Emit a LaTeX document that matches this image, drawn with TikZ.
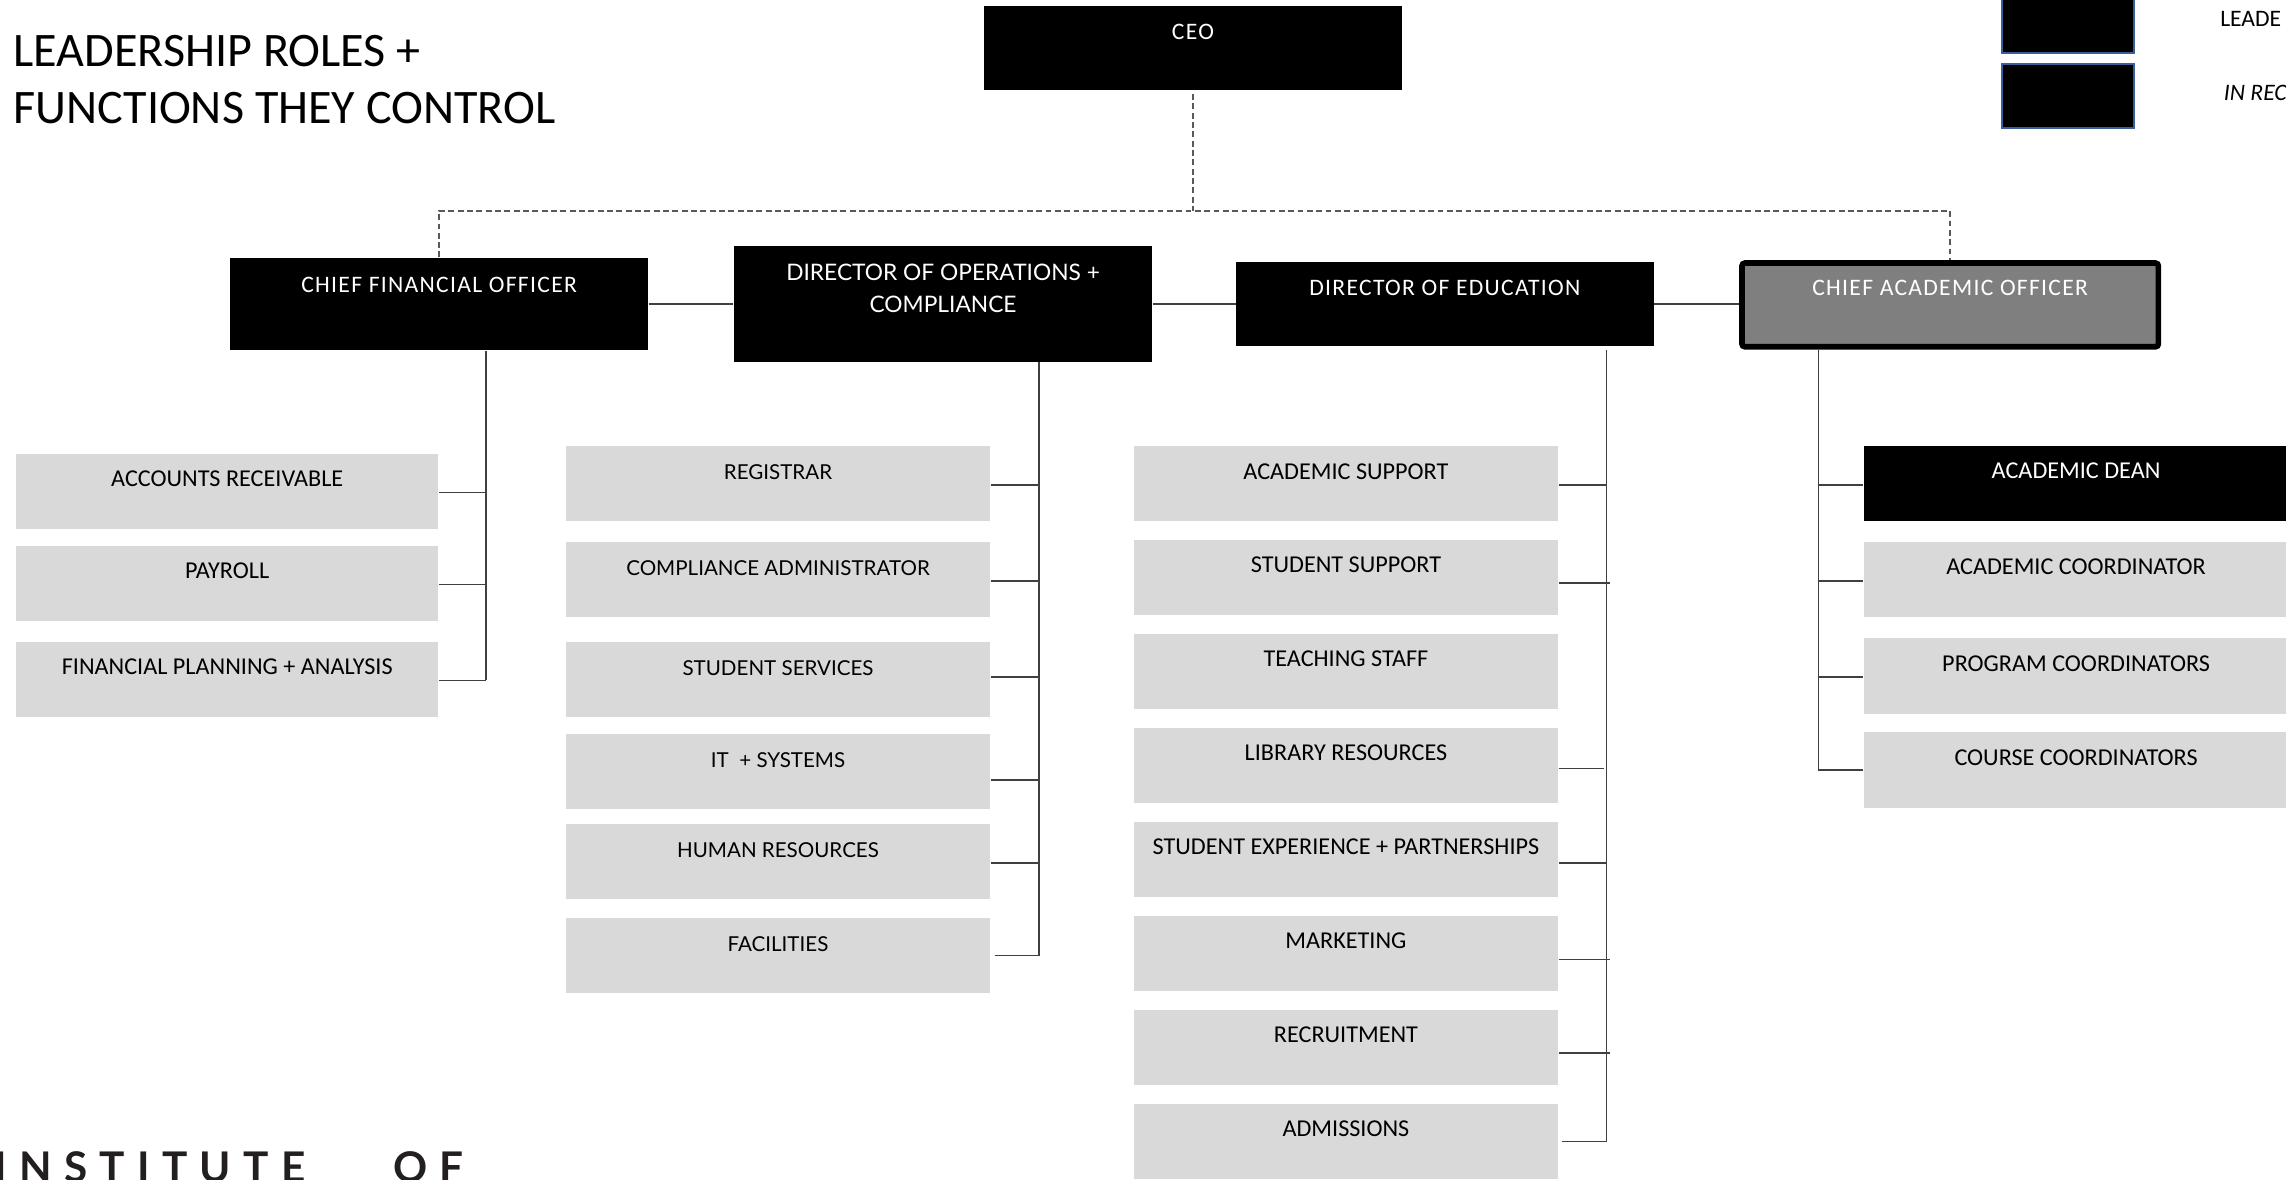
\documentclass[tikz,border=0pt]{standalone}
\usepackage{fontspec}
\setmainfont{Carlito}
\newfontfamily\leadfont{Carlito}[LetterSpace=5.5]
\newfontfamily\opsfont{Lato}
\newfontfamily\instfont{Lato}[LetterSpace=29]
\definecolor{boxgray}{HTML}{D9D9D9}
\definecolor{caogray}{HTML}{7F7F7F}
\definecolor{linegray}{HTML}{404040}
\definecolor{dashgray}{HTML}{595959}
\definecolor{legblue}{HTML}{3A5CA0}
\definecolor{insttext}{HTML}{231F20}
\pgfdeclarelayer{background}
\pgfsetlayers{background,main}
\begin{document}
\begin{tikzpicture}[x=0.5pt,y=-0.5pt,
  graybox/.style={fill=boxgray, draw=none, inner sep=0pt, text=black,
    text height=11.3pt, text depth=14.5pt, font=\fontsize{8.3}{9.9}\selectfont},
  opsbox/.style={graybox, text height=11.6pt, text depth=14.25pt,
    minimum width=145.35pt, font=\opsfont\fontsize{7.05}{8.5}\selectfont},
  cfokid/.style={graybox, minimum width=144.85pt},
  edkid/.style={graybox, minimum width=145.4pt},
  caokid/.style={graybox, minimum width=145.5pt},
  leadbox/.style={fill=black, draw=none, text=white, inner sep=0pt,
    minimum width=143.3pt, font=\leadfont\fontsize{8.1}{9.7}\selectfont},
  legbox/.style={fill=black, draw=legblue, line width=0.7pt, inner sep=0pt,
    minimum width=45.35pt, minimum height=21.85pt},
  conn/.style={draw=linegray, line width=0.55pt},
  dsh/.style={draw=dashgray, line width=0.6pt, dash pattern=on 2pt off 1.2pt},
  plain/.style={inner sep=0pt, anchor=base west}
]
\useasboundingbox (0,0) rectangle (1568,808.7);
\clip (0,0) rectangle (1568,808.7);

% title
\node[plain, font=\fontsize{16.5}{19.45}\selectfont] (title) at (9,45.7)
  {\begin{tabular}[t]{@{}l@{}}LEADERSHIP ROLES +\\FUNCTIONS THEY CONTROL\end{tabular}};

% legend
\node[legbox] (leg1) at (1418.35,14.75) {};
\node[legbox] (leg2) at (1418.35,65.75) {};
\node[plain, font=\fontsize{8.1}{9.7}\selectfont] (legt1) at (1522.5,18.3) {LEADE};
\node[plain, font=\fontsize{8.1}{9.7}\selectfont\itshape] (legt2) at (1525,68.6) {IN REC};

% leaders
\node[leadbox, minimum width=143.25pt, text height=11.45pt, text depth=17.35pt] (ceo) at (818.25,32.9) {CEO};
\node[leadbox, text height=12pt, text depth=19.6pt] (cfo) at (301.2,208.5) {CHIEF FINANCIAL OFFICER};
\node[leadbox, minimum width=143.35pt, font=\opsfont\fontsize{7.8}{11}\selectfont,
  text height=22.85pt, text depth=16.9pt] (dops) at (646.85,208.45)
  {\begin{tabular}[b]{@{}c@{}}DIRECTOR OF OPERATIONS +\\COMPLIANCE\end{tabular}};
\node[leadbox, minimum width=143.15pt, text height=11.65pt, text depth=17.05pt] (dired) at (991.05,208.4) {DIRECTOR OF EDUCATION};
\node[leadbox, fill=caogray, draw=black, line width=1.95pt, rounded corners=1pt,
  minimum width=142.8pt, text height=11.275pt, text depth=17.425pt] (cao) at (1337.65,209.15) {CHIEF ACADEMIC OFFICER};

% CFO children
\node[cfokid] (ar)  at (155.85,337.1) {ACCOUNTS RECEIVABLE};
\node[cfokid] (pay) at (155.85,400.2) {PAYROLL};
\node[cfokid] (fpa) at (155.85,466.1) {FINANCIAL PLANNING + ANALYSIS};

% Operations children
\node[opsbox] (reg)  at (533.65,331.75) {REGISTRAR};
\node[opsbox] (comp) at (533.65,397.55) {COMPLIANCE ADMINISTRATOR};
\node[opsbox] (ss)   at (533.65,466.15) {STUDENT SERVICES};
\node[opsbox] (it)   at (533.65,529.25) {IT \ + SYSTEMS};
\node[opsbox] (hr)   at (533.65,591.05) {HUMAN RESOURCES};
\node[opsbox] (fac)  at (533.65,655.45) {FACILITIES};

% Education children
\node[edkid] (asup) at (923.2,331.8) {ACADEMIC SUPPORT};
\node[edkid] (ssup) at (923.2,396.2) {STUDENT SUPPORT};
\node[edkid] (teach) at (923.2,460.6) {TEACHING STAFF};
\node[edkid] (lib)  at (923.2,525.1) {LIBRARY RESOURCES};
\node[edkid] (sep)  at (923.2,589.6) {STUDENT EXPERIENCE + PARTNERSHIPS};
\node[edkid] (mkt)  at (923.2,654.1) {MARKETING};
\node[edkid] (rec)  at (923.2,718.5) {RECRUITMENT};
\node[edkid] (adm)  at (923.2,783.0) {ADMISSIONS};

% CAO children
\node[caokid, fill=black, text=white] (dean) at (1424,331.7) {ACADEMIC DEAN};
\node[caokid] (acoord) at (1424,397.5) {ACADEMIC COORDINATOR};
\node[caokid] (pcoord) at (1424,463.6) {PROGRAM COORDINATORS};
\node[caokid] (ccoord) at (1424,528.1) {COURSE COORDINATORS};

% bottom text
\node[plain, font=\instfont\bfseries\fontsize{14.5}{17}\selectfont, text=insttext] (inst) at (-4,810.8)
  {INSTITUTE\hspace{30pt}OF};

% connectors
\coordinate (dbar) at (0,144.5);
\coordinate (cfobus) at (333.5,0);
\coordinate (opsbus) at (712.6,0);
\coordinate (edbus) at (1102,0);
\coordinate (caobus) at (1247.3,0);
\begin{pgfonlayer}{background}
\draw[dsh] ([yshift=-1.2pt]ceo.south) -- (ceo.south |- dbar);
\draw[dsh] (cfo.north) -- (cfo.north |- dbar) -- (cao.north |- dbar) -- (cao.north);
\draw[conn] (cfo.east) -- (dops.west |- cfo.east);
\draw[conn] (dops.east) -- (dired.west |- dops.east);
\draw[conn] (dired.east) -- (cao.west |- dired.east);
% CFO bus
\draw[conn] (cfo.south -| cfobus) -- ([yshift=-0.3pt]fpa.east -| cfobus);
\foreach \n in {ar,pay,fpa} \draw[conn] ([yshift=-0.3pt]\n.east) -- ([yshift=-0.3pt]\n.east -| cfobus);
% Ops bus
\draw[conn] (dops.south -| opsbus) -- (fac.east -| opsbus);
\foreach \n in {reg,comp,hr} \draw[conn] ([yshift=-0.5pt]\n.east) -- ([yshift=-0.5pt]\n.east -| opsbus);
\draw[conn] ([yshift=0.8pt]ss.east) -- ([yshift=0.8pt]ss.east -| opsbus);
\draw[conn] ([yshift=-2.9pt]it.east) -- ([yshift=-2.9pt]it.east -| opsbus);
\draw[conn] ([xshift=1.4pt]fac.east) -- (fac.east -| opsbus);
% Education bus
\draw[conn] ([yshift=-1.25pt]dired.south -| edbus) -- (adm.east -| edbus);
\draw[conn] ([yshift=-0.4pt]asup.east) -- ([yshift=-0.4pt]asup.east -| edbus);
\draw[conn] ([yshift=-1.9pt]ssup.east) -- ([yshift=-1.9pt,xshift=1.3pt]ssup.east -| edbus);
\draw[conn] ([yshift=-1pt]lib.east) -- ([yshift=-1pt,xshift=-1pt]lib.east -| edbus);
\draw[conn] ([yshift=-1.2pt]sep.east) -- ([yshift=-1.2pt]sep.east -| edbus);
\draw[conn] ([yshift=-1.95pt]mkt.east) -- ([yshift=-1.95pt,xshift=1.3pt]mkt.east -| edbus);
\draw[conn] ([yshift=-1.95pt]rec.east) -- ([yshift=-1.95pt,xshift=1.3pt]rec.east -| edbus);
\draw[conn] ([xshift=1.2pt]adm.east) -- (adm.east -| edbus);
% CAO bus
\draw[conn] (cao.south -| caobus) -- (ccoord.west -| caobus);
\foreach \n in {dean,acoord,pcoord} \draw[conn] ([yshift=-0.45pt]\n.west) -- ([yshift=-0.45pt]\n.west -| caobus);
\draw[conn] (ccoord.west) -- (ccoord.west -| caobus);
\end{pgfonlayer}
\end{tikzpicture}
\end{document}
